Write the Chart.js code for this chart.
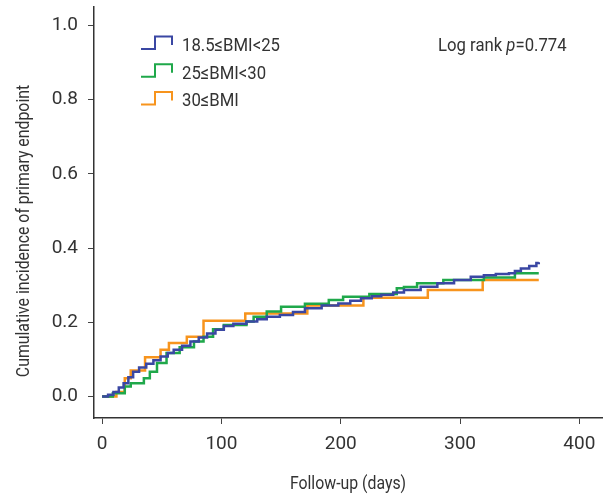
<!DOCTYPE html>
<html>
<head>
<meta charset="utf-8">
<script src="https://cdn.jsdelivr.net/npm/chart.js@4"></script>
<style>
  html, body { margin: 0; padding: 0; background: #fff; }
  #wrap { width: 610px; height: 496px; position: relative; }
</style>
</head>
<body>
<div id="wrap"><canvas id="kmChart"></canvas></div>
<script>
// tick labels
const xTicks = [0, 100, 200, 300, 400];
const yTicks = [0, 0.2, 0.4, 0.6, 0.8, 1.0];

// 18.5<=BMI<25
const normalDays = [0, 5, 9.5, 14, 18, 22, 26, 31, 37, 43, 49, 55, 60, 67, 74, 81, 88, 95, 102, 110, 121, 130, 138, 149, 160, 170, 184, 198, 208, 217, 226, 234, 244, 253, 267, 281, 295, 309, 320, 330, 341, 346, 351, 358, 364, 366];
const normalValues = [0, 0.005, 0.012, 0.024, 0.036, 0.052, 0.067, 0.078, 0.088, 0.098, 0.108, 0.117, 0.126, 0.137, 0.148, 0.159, 0.170, 0.180, 0.190, 0.196, 0.202, 0.208, 0.215, 0.220, 0.228, 0.238, 0.245, 0.251, 0.258, 0.265, 0.270, 0.274, 0.280, 0.287, 0.296, 0.305, 0.314, 0.323, 0.327, 0.330, 0.332, 0.338, 0.345, 0.352, 0.360, 0.362];

// 25<=BMI<30
const overDays = [0, 9, 19, 24, 35, 40, 46, 54, 65, 77, 85, 93, 102, 121, 127, 138, 150, 170, 190, 202, 224, 247, 253, 264, 286, 320, 346, 366];
const overValues = [0, 0.009, 0.027, 0.036, 0.049, 0.067, 0.090, 0.117, 0.133, 0.148, 0.161, 0.181, 0.193, 0.202, 0.215, 0.229, 0.242, 0.250, 0.260, 0.269, 0.276, 0.292, 0.295, 0.305, 0.314, 0.321, 0.332, 0.332];

// 30<=BMI
const obeseDays = [0, 12, 19, 24, 36, 49, 56, 71, 85, 120, 172, 219, 273, 319, 366];
const obeseValues = [0, 0.012, 0.049, 0.070, 0.106, 0.126, 0.144, 0.161, 0.204, 0.224, 0.245, 0.266, 0.287, 0.314, 0.314];

const seriesLabels = ['18.5\u2264BMI<25', '25\u2264BMI<30', '30\u2264BMI'];
const seriesColors = ['#3a47a3', '#1fa84a', '#f7941d'];
const xTitle = 'Follow-up (days)';
const yTitle = 'Cumulative incidence of primary endpoint';

const FONT = "Roboto, 'Liberation Sans', sans-serif";
const TEXT = '#333';
Chart.defaults.font.family = FONT;
Chart.defaults.color = TEXT;

const toPoints = (days, vals) => days.map((d, i) => ({ x: d, y: vals[i] }));

// the original uses a condensed face, so squeeze text horizontally
const SQUEEZE = 0.88;
function squeezedText(ctx, parts, x, y, align) {
    // parts: [[text, font], ...]
    let w = 0;
    parts.forEach(([t, f]) => { ctx.font = f; w += ctx.measureText(t).width; });
    ctx.save();
    ctx.translate(x, y);
    ctx.scale(SQUEEZE, 1);
    let cx = align === 'center' ? -w / 2 : 0;
    ctx.textAlign = 'left';
    parts.forEach(([t, f]) => {
        ctx.font = f;
        ctx.fillText(t, cx, 0);
        cx += ctx.measureText(t).width;
    });
    ctx.restore();
}

// legend, annotation and axis titles drawn over the chart
const overlayText = {
    id: 'overlayText',
    afterDraw(chart) {
        const ctx = chart.ctx;
        const f19 = '19px ' + FONT;
        ctx.save();
        ctx.fillStyle = TEXT;
        ctx.textBaseline = 'alphabetic';
        chart.data.datasets.forEach((ds, i) => {
            const base = 49 + i * 27.7;
            ctx.strokeStyle = ds.borderColor;
            ctx.lineWidth = 2;
            ctx.beginPath();
            ctx.moveTo(141, base);
            ctx.lineTo(155, base);
            ctx.lineTo(155, base - 12.5);
            ctx.lineTo(172, base - 12.5);
            ctx.lineTo(172, base - 4);
            ctx.stroke();
            squeezedText(ctx, [[ds.label, f19]], 182, base + 2, 'left');
        });
        squeezedText(ctx, [['Log rank ', f19], ['p', 'italic ' + f19], ['=0.774', f19]], 438, 51, 'left');

        // axis titles
        ctx.textBaseline = 'middle';
        squeezedText(ctx, [[xTitle, '18px ' + FONT]], (chart.chartArea.left + chart.chartArea.right) / 2, 484, 'center');
        ctx.save();
        ctx.translate(24, 231);
        ctx.rotate(-Math.PI / 2);
        squeezedText(ctx, [[yTitle, '18px ' + FONT]], 0, 0, 'center');
        ctx.restore();
        ctx.restore();
    }
};

new Chart(document.getElementById('kmChart'), {
    type: 'line',
    data: {
        datasets: [
            { label: seriesLabels[0], data: toPoints(normalDays, normalValues), borderColor: seriesColors[0] },
            { label: seriesLabels[1], data: toPoints(overDays, overValues), borderColor: seriesColors[1] },
            { label: seriesLabels[2], data: toPoints(obeseDays, obeseValues), borderColor: seriesColors[2] },
        ].map(ds => Object.assign(ds, { stepped: 'before', borderWidth: 2.5, pointRadius: 0, fill: false }))
    },
    options: {
        responsive: true,
        maintainAspectRatio: false,
        animation: false,
        layout: { padding: { top: 7, right: 8, left: 0, bottom: 0 } },
        plugins: { legend: { display: false }, tooltip: { enabled: false } },
        scales: {
            x: {
                type: 'linear',
                min: -6.8,
                max: 419,
                afterBuildTicks: s => { s.ticks = xTicks.map(v => ({ value: v })); },
                afterFit: s => { s.height = 78; s.paddingLeft = 0; s.paddingRight = 0; },
                grid: { drawOnChartArea: false, tickLength: 6, color: '#444' },
                border: { color: '#333', width: 1.5 },
                ticks: { padding: 9, font: { size: 19 }, color: TEXT, maxRotation: 0 }
            },
            y: {
                min: -0.058,
                max: 1.05,
                afterBuildTicks: s => { s.ticks = yTicks.map(v => ({ value: v })); },
                afterFit: s => { s.width = 94; s.paddingTop = 0; s.paddingBottom = 0; },
                grid: { drawOnChartArea: false, tickLength: 6, color: '#444' },
                border: { color: '#333', width: 1.5 },
                ticks: { padding: 10, font: { size: 19 }, color: TEXT, callback: v => v.toFixed(1) }
            }
        }
    },
    plugins: [overlayText]
});
</script>
</body>
</html>
